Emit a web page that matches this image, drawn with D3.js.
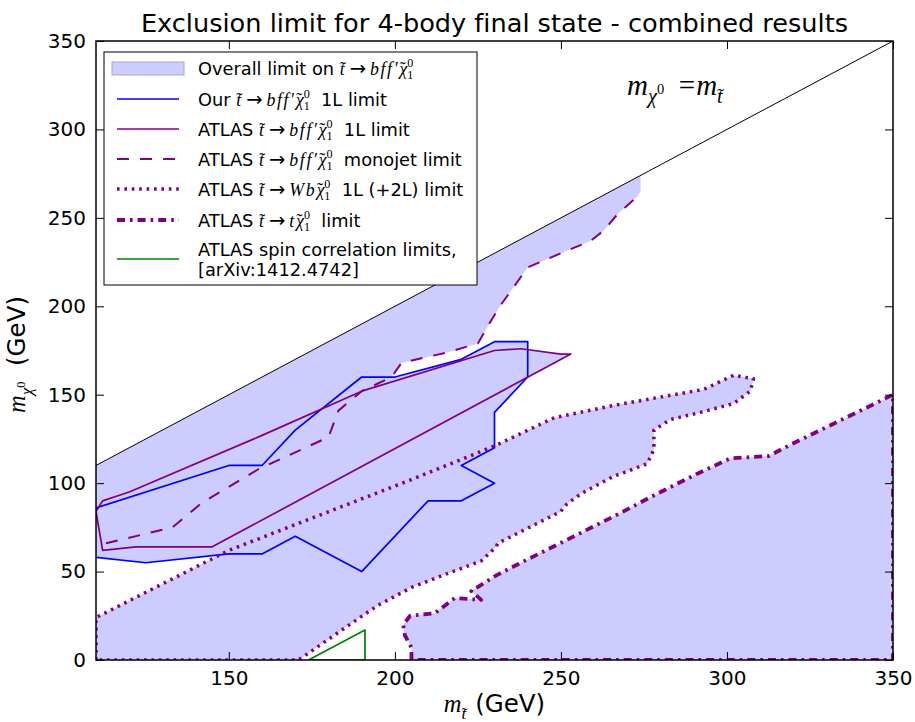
<!DOCTYPE html>
<html>
<head>
<meta charset="utf-8"/>
<title>Exclusion limit for 4-body final state</title>
<script src="https://cdn.jsdelivr.net/npm/d3@7"></script>
<style>
body { margin: 0; background: #fff; }
svg { display: block; font-family: "DejaVu Sans", sans-serif; }
text { white-space: pre; font-variant-ligatures: none; }
</style>
</head>
<body>
<div id="chart"></div>
<script>
// ticks
const xTicks = [150, 200, 250, 300, 350];
const yTicks = [0, 50, 100, 150, 200, 250, 300, 350];

// m_chi = m_stop
const diagonal = [[110, 110], [350, 350]];

// right edge of the shaded monojet band, up to the diagonal
const overallEdge = [[274, 274], [274, 265]];

// ATLAS monojet limit (dashed)
const monojetLimit = [[113, 66], [133, 75], [142, 89], [159, 108], [180, 126], [183, 141],
  [190, 152], [199, 160], [202, 168], [216, 174], [225, 179], [229, 192], [232, 201],
  [240, 222], [250, 230], [259, 237], [263, 243], [267, 252], [273, 262]];

// our 1L limit (blue)
const ourLimit = [[110, 86], [150, 110], [160, 110], [170, 130], [190, 160], [200, 160],
  [220, 170], [230, 180], [240, 180], [240, 160], [230, 140], [230, 120], [220, 110],
  [230, 100], [220, 90], [210, 90], [190, 50], [170, 70], [160, 60], [150, 60],
  [125, 55], [110, 58]];

// ATLAS 1L limit (purple)
const atlas1LLimit = [[112, 90], [120, 95], [160, 127], [190, 152], [230, 175], [238, 176],
  [250, 173], [253, 173], [145, 64], [122, 64], [112, 62], [110, 84]];

// ATLAS Wb 1L (+2L) limit (dotted)
const wbLimit = [[110, 0], [110, 24], [150, 62], [205, 102], [230, 121], [248, 137],
  [266, 144], [293, 153], [302, 161], [308, 159], [307, 152], [302, 145], [292, 140],
  [283, 136], [278, 130], [278, 119], [276, 111], [269, 106], [266, 104], [256, 94],
  [251, 87], [250, 84], [231, 66], [230.5, 64], [226, 56], [216, 49], [205, 41],
  [195, 31], [191, 26], [171, 0]];

// ATLAS t chi limit (dash-dot)
const tChiLimit = [[205, 0], [205, 7], [203, 14], [202.5, 20], [204.6, 25], [212, 26.4],
  [218, 35], [226, 34], [223, 39], [230.7, 48], [237.2, 54.3], [250.7, 66.9],
  [267.8, 83], [277.8, 92.9], [290.9, 105.2], [301, 114], [312.5, 115.3], [319, 121.6],
  [350, 150], [350, 0]];

// ATLAS spin correlation (green)
const spinLimit = [[174, 0], [191, 17], [191, 0]];

const sans = "DejaVu Sans, sans-serif";
const serif = "Liberation Serif, DejaVu Serif, serif";

// stop -> X chi_1^0, written as text pieces
const decay = mid => [
  {t: "t", m: 1},
  {t: "\u02DC", m: 1, up: 1, dx: -.27},
  {t: "\u2009\u2192\u2009", f: 1, s: 1.1},
  {t: mid, m: 1, ls: .09},
  {t: "\u03C7", m: 1, dx: .02},
  {t: "\u02DC", m: 1, up: 1, dx: -.42},
  {t: "0", m: 1, up: 1, s: .68, o: -.4, dx: .08},
  {t: "1", m: 1, up: 1, s: .68, o: .28, dx: -.34}
];

const legendLabels = [
  [[{t: "Overall limit on "}, ...decay("bff\u2032")]],
  [[{t: "Our "}, ...decay("bff\u2032"), {t: "  1L limit"}]],
  [[{t: "ATLAS "}, ...decay("bff\u2032"), {t: "  1L limit"}]],
  [[{t: "ATLAS "}, ...decay("bff\u2032"), {t: "  monojet limit"}]],
  [[{t: "ATLAS "}, ...decay("Wb"), {t: "  1L (+2L) limit"}]],
  [[{t: "ATLAS "}, ...decay("t"), {t: "  limit"}]],
  [[{t: "ATLAS spin correlation limits,"}], [{t: "[arXiv:1412.4742]"}]]
];

const W = 915, H = 722;
const plot = {left: 96, top: 41, right: 893, bottom: 660};

const svg = d3.select("#chart").append("svg")
    .attr("width", W)
    .attr("height", H);

const x = d3.scaleLinear().domain([110, 350]).range([plot.left, plot.right]);
const y = d3.scaleLinear().domain([0, 350]).range([plot.bottom, plot.top]);
const line = d3.line().x(d => x(d[0])).y(d => y(d[1]));

function rich(text, parts, fs) {
  let shift = 0;
  parts.forEach(p => {
    const off = fs * (p.o || 0);
    const ts = text.append("tspan")
        .attr("font-size", fs * (p.s || 1))
        .attr("dy", off - shift)
        .text(p.t);
    if (p.m) ts.attr("font-family", serif).attr("font-style", p.up ? "normal" : "italic");
    if (p.f) ts.attr("font-family", sans);
    if (p.dx) ts.attr("dx", fs * p.dx);
    if (p.ls) ts.attr("letter-spacing", fs * p.ls);
    shift = off;
  });
}

svg.append("clipPath").attr("id", "clip")
  .append("rect")
    .attr("x", plot.left).attr("y", plot.top)
    .attr("width", plot.right - plot.left).attr("height", plot.bottom - plot.top);

const g = svg.append("g").attr("clip-path", "url(#clip)");

// overall limit = union of all exclusions
const fillColor = "#ccccff";
const fills = [
  [diagonal[0], ...overallEdge, ...monojetLimit.slice().reverse(), [110, 66]],
  ourLimit, atlas1LLimit, wbLimit, tChiLimit
];
g.selectAll(".fill")
    .data(fills)
    .enter()
    .append("path")
    .attr("class", "fill")
    .attr("d", d => line(d) + "Z")
    .attr("fill", fillColor)
    .attr("stroke", "none");

g.append("path")
    .attr("d", line(diagonal))
    .attr("fill", "none").attr("stroke", "#000").attr("stroke-width", 1);

const styles = {
  ours: {stroke: "#0000ff", width: 1.7, dash: null},
  atlas1L: {stroke: "#800080", width: 1.7, dash: null},
  monojet: {stroke: "#800080", width: 2, dash: "12,11"},
  wb: {stroke: "#800080", width: 3.5, dash: "2.6,4.8"},
  tchi: {stroke: "#800080", width: 3.8, dash: "8,5,2.6,5"},
  spin: {stroke: "#008000", width: 1.7, dash: null}
};

function drawLine(pts, st, closed) {
  g.append("path")
      .attr("d", line(pts) + (closed ? "Z" : ""))
      .attr("fill", "none")
      .attr("stroke", st.stroke)
      .attr("stroke-width", st.width)
      .attr("stroke-dasharray", st.dash)
      .attr("stroke-linejoin", "round");
}
drawLine(ourLimit, styles.ours, false);
drawLine(atlas1LLimit, styles.atlas1L, true);
drawLine(monojetLimit, styles.monojet, false);
drawLine(wbLimit, styles.wb, true);
drawLine(tChiLimit, styles.tchi, true);
drawLine(spinLimit, styles.spin, true);

// axes, ticks inward on all sides
const tickFont = 20;
const bottomAxis = svg.append("g")
    .attr("transform", `translate(0,${plot.bottom})`)
    .call(d3.axisBottom(x).tickValues(xTicks).tickSize(-8).tickPadding(8));
svg.append("g")
    .attr("transform", `translate(${plot.left},0)`)
    .call(d3.axisLeft(y).tickValues(yTicks).tickSize(-8).tickPadding(10));
svg.append("g")
    .attr("transform", `translate(0,${plot.top})`)
    .call(d3.axisTop(x).tickValues(xTicks).tickSize(-8).tickFormat(""));
svg.append("g")
    .attr("transform", `translate(${plot.right},0)`)
    .call(d3.axisRight(y).tickValues(yTicks).tickSize(-8).tickFormat(""));
svg.selectAll(".domain").remove();
svg.selectAll(".tick line").attr("stroke", "#000").attr("stroke-width", 1);
svg.selectAll(".tick text")
    .attr("font-family", sans)
    .attr("font-size", tickFont)
    .attr("fill", "#000");
bottomAxis.selectAll(".tick text").attr("dy", "0.85em");

svg.append("rect")
    .attr("x", plot.left).attr("y", plot.top)
    .attr("width", plot.right - plot.left).attr("height", plot.bottom - plot.top)
    .attr("fill", "none").attr("stroke", "#000").attr("stroke-width", 1.5);

// title
svg.append("text")
    .attr("x", (plot.left + plot.right) / 2)
    .attr("y", 32)
    .attr("text-anchor", "middle")
    .attr("font-size", 25.6)
    .text("Exclusion limit for 4-body final state - combined results");

// axis labels
const xl = svg.append("text")
    .attr("x", (plot.left + plot.right) / 2)
    .attr("y", 712)
    .attr("text-anchor", "middle");
rich(xl, [{t: "m", m: 1}, {t: "t", m: 1, s: .7, o: .28},
  {t: "\u02DC", m: 1, up: 1, s: .7, o: .28, dx: -.19}, {t: " (GeV)"}], 24.5);

const yl = svg.append("text")
    .attr("transform", `translate(25,${(plot.top + plot.bottom) / 2 + 4}) rotate(-90)`)
    .attr("text-anchor", "middle");
rich(yl, [{t: "m", m: 1}, {t: "\u03C7", m: 1, s: .7, o: .28},
  {t: "0", m: 1, up: 1, s: .5, o: -.02}, {t: "  (GeV)"}], 24.5);

// diagonal annotation
const ann = svg.append("text").attr("x", 627).attr("y", 95);
rich(ann, [{t: "m", m: 1}, {t: "\u03C7", m: 1, s: .7, o: .28},
  {t: "0", m: 1, up: 1, s: .5, o: -.02}, {t: "  =", m: 1, up: 1},
  {t: "m", m: 1, dx: .04}, {t: "t", m: 1, s: .7, o: .28},
  {t: "\u02DC", m: 1, up: 1, s: .7, o: .28, dx: -.19}], 29);

// legend
const lg = svg.append("g");
lg.append("rect")
    .attr("x", 104).attr("y", 52)
    .attr("width", 373).attr("height", 233)
    .attr("fill", "#fff").attr("stroke", "#000").attr("stroke-width", 1);

const rowY = [68, 99, 129, 159, 189, 220, 259];
const handles = [null, styles.ours, styles.atlas1L, styles.monojet, styles.wb, styles.tchi, styles.spin];
const legendFont = 17.8;

legendLabels.forEach((lines, i) => {
  const cy = rowY[i];
  if (i === 0) {
    lg.append("rect")
        .attr("x", 112).attr("y", cy - 6)
        .attr("width", 72).attr("height", 13)
        .attr("fill", fillColor).attr("stroke", "#a8a8cc").attr("stroke-width", 1);
  } else {
    const st = handles[i];
    lg.append("line")
        .attr("x1", 117).attr("x2", 179)
        .attr("y1", cy).attr("y2", cy)
        .attr("stroke", st.stroke)
        .attr("stroke-width", st.width)
        .attr("stroke-dasharray", st.dash);
  }
  lines.forEach((parts, j) => {
    const t = lg.append("text")
        .attr("x", 198)
        .attr("y", (lines.length > 1 ? cy - 10 + j * 20 : cy) + 6.5);
    rich(t, parts, legendFont);
  });
});
</script>
</body>
</html>
